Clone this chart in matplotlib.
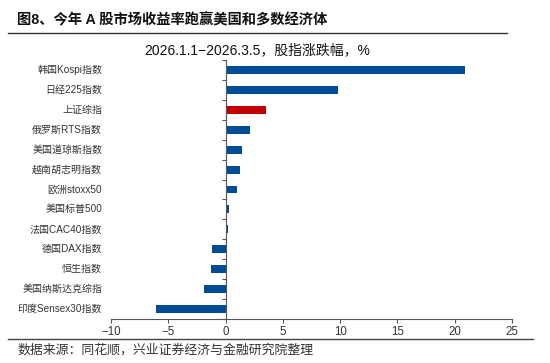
import matplotlib
matplotlib.use("Agg")
import matplotlib.pyplot as plt
from matplotlib.lines import Line2D
import numpy as np

plt.rcParams["font.family"] = ["Liberation Sans", "Noto Sans CJK SC", "DejaVu Sans"]
plt.rcParams["axes.unicode_minus"] = True

# data, top to bottom
indices = [
    "韩国Kospi指数", "日经225指数", "上证综指", "俄罗斯RTS指数", "美国道琼斯指数",
    "越南胡志明指数", "欧洲stoxx50", "美国标普500", "法国CAC40指数", "德国DAX指数",
    "恒生指数", "美国纳斯达克综指", "印度Sensex30指数",
]
changes = [20.9, 9.8, 3.5, 2.1, 1.4, 1.3, 1.0, 0.3, 0.2, -1.2, -1.3, -1.9, -6.1]
highlight = "上证综指"
xticks = [-10, -5, 0, 5, 10, 15, 20, 25]

BLUE = "#004C97"
RED = "#C00000"
TXT = "#333333"

fig = plt.figure(figsize=(5.5, 3.63), dpi=100)
ax = fig.add_axes([0.2018, 0.1212, 0.7291, 0.7135])

ypos = np.arange(len(indices))
colors = [RED if n == highlight else BLUE for n in indices]
ax.barh(ypos, changes, height=0.4, color=colors)
ax.set_ylim(len(indices) - 0.5, -0.5)
ax.set_xlim(-10, 25)

# spines: vertical axis at zero, bottom axis
for s in ["top", "right"]:
    ax.spines[s].set_visible(False)
ax.spines["left"].set_position(("data", 0))
ax.spines["left"].set_color("#555555")
ax.spines["bottom"].set_color("#555555")
ax.spines["left"].set_linewidth(0.8)
ax.spines["bottom"].set_linewidth(0.8)

ax.set_yticks(np.arange(len(indices) + 1) - 0.5)
ax.set_yticklabels([])
ax.tick_params(axis="y", length=3, width=0.8, color="#555555", direction="out")
ax.set_xticks(xticks)
ax.set_xticklabels([str(t).replace("-", "\u2212") for t in xticks])
ax.tick_params(axis="x", length=3, width=0.8, color="#555555", labelsize=8.3,
               labelcolor=TXT, pad=2)

# category labels at the left of the plot area
for y, name in zip(ypos, indices):
    ax.text(-0.022, y, name, transform=ax.get_yaxis_transform(), ha="right",
            va="center", fontsize=7.2, color=TXT)

# header, rules and source
fig.text(0.031, 0.945, "图8、今年 A 股市场收益率跑赢美国和多数经济体", fontsize=10.3,
         fontweight="bold", color="#111111", va="center")
fig.add_artist(Line2D([0.015, 0.922], [0.91, 0.91], color="#333333", lw=1.0))
fig.text(0.467, 0.862, "2026.1.1\u22122026.3.5，股指涨跌幅，%", fontsize=10,
         color="#111111", ha="center", va="center")
fig.add_artist(Line2D([0.015, 0.969], [0.066, 0.066], color="#444444", lw=1.0))
fig.text(0.031, 0.035, "数据来源：同花顺，兴业证券经济与金融研究院整理", fontsize=9.3,
         color=TXT, va="center")

fig.savefig("out.png", dpi=100)
